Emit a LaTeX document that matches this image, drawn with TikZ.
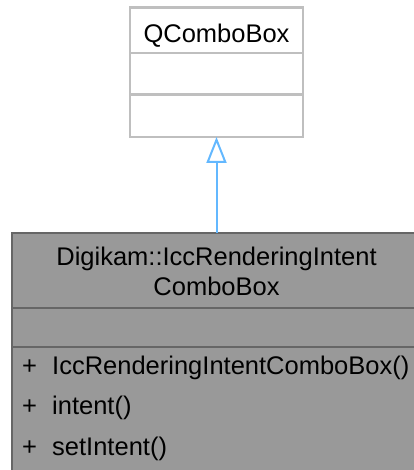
\documentclass[tikz,border=0pt]{standalone}
\usepackage{fontspec}
\setmainfont{Liberation Sans}
\usetikzlibrary{arrows.meta}
\definecolor{topline}{RGB}{191,191,191}
\definecolor{botfill}{RGB}{153,153,153}
\definecolor{botline}{RGB}{102,102,102}
\definecolor{inhcol}{RGB}{99,184,255}
\begin{document}
\begin{tikzpicture}[x=1pt,y=1pt,
  topbox/.style={draw=topline,fill=white,line width=2.5pt,inner sep=0pt,outer sep=0pt},
  botbox/.style={draw=botline,fill=botfill,line width=2.5pt,inner sep=0pt,outer sep=0pt},
  topdiv/.style={draw=topline,line width=2.5pt},
  botdiv/.style={draw=botline,line width=2.5pt},
  lbl/.style={inner sep=0pt,font=\fontsize{25.5}{30}\selectfont},
  inh/.style={draw=inhcol,line width=2pt,-{Triangle[open,length=26pt,width=20pt,line width=2pt]}}]
\useasboundingbox (0,0) rectangle (413,470);
% base class
\node[topbox,minimum width=173pt,minimum height=129.5pt,anchor=north west] (qcb) at (130,462.5) {};
\draw[topdiv] (qcb.west |- 0,417) -- (qcb.east |- 0,417);
\draw[topdiv] (qcb.west |- 0,375.5) -- (qcb.east |- 0,375.5);
\node[lbl,anchor=base] (qt) at (216.5,427) {QComboBox};
% derived class
\node[botbox,minimum width=409pt,minimum height=260pt,anchor=north west] (dcb) at (12,237) {};
\draw[botdiv] (dcb.west |- 0,162) -- (dcb.east |- 0,162);
\draw[botdiv] (dcb.west |- 0,123) -- (dcb.east |- 0,123);
\node[lbl,anchor=base] (dt1) at (216.5,204) {Digikam::IccRenderingIntent};
\node[lbl,anchor=base] (dt2) at (216.5,174) {ComboBox};
\node[lbl,anchor=base west] (p1) at (22,95) {+};
\node[lbl,anchor=base west] (m1) at (52,95) {IccRenderingIntentComboBox()};
\node[lbl,anchor=base west] (p2) at (22,55) {+};
\node[lbl,anchor=base west] (m2) at (52,55) {intent()};
\node[lbl,anchor=base west] (p3) at (22,14) {+};
\node[lbl,anchor=base west] (m3) at (52,14) {setIntent()};
% inheritance
\draw[inh] (dcb.north) -- (qcb.south);
\end{tikzpicture}
\end{document}
